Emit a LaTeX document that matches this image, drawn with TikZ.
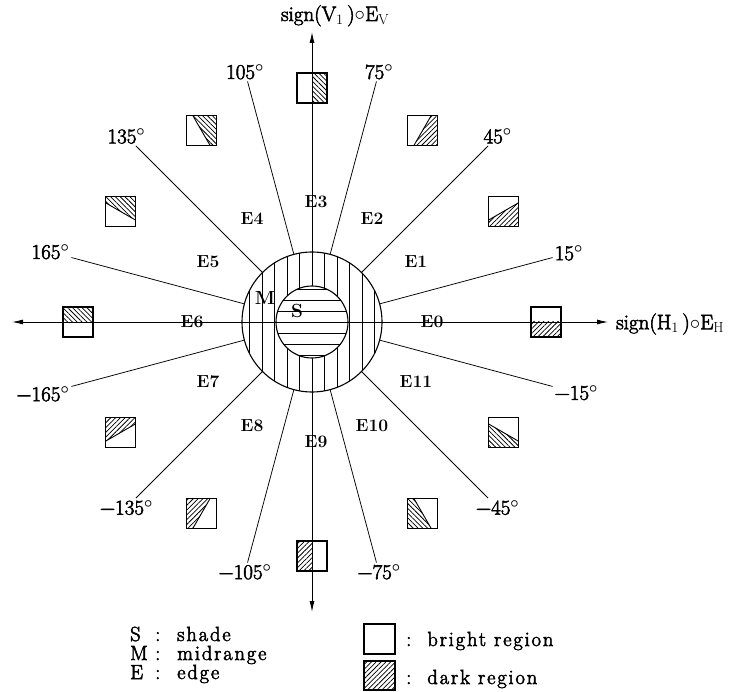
\documentclass[tikz,border=0pt]{standalone}
\usepackage{fontspec}
\setmainfont{Latin Modern Roman}
\newfontfamily\thickfont{Latin Modern Roman}[FakeBold=2.6]
\newfontfamily\legfont{Latin Modern Roman}[FakeBold=2.6,LetterSpace=9]
\usetikzlibrary{arrows.meta,patterns.meta}
\tikzset{
  lbl/.style={font=\fontsize{21}{24}\selectfont\thickfont, inner sep=2pt},
  elbl/.style={font=\fontsize{17.5}{20}\selectfont\bfseries, inner sep=0pt},
  ctr/.style={font=\fontsize{19}{22}\selectfont\bfseries, inner sep=0pt},
  legtxt/.style={font=\fontsize{20.5}{24}\selectfont\legfont, inner sep=0pt, anchor=base west},
  ray/.style={line width=0.75pt},
  axisarrow/.style={line width=0.9pt,-{Latex[length=11pt,width=5pt]}},
  circline/.style={line width=1.1pt},
  hatchline/.style={line width=0.8pt},
  sqline/.style={line width=1.1pt},
  darkfill/.style={pattern={Lines[angle=#1,distance=3.4pt,line width=0.75pt]}},
}
\newcommand\EdgeSquare[3]{%
  \begin{scope}[shift={(#1:#2)}]
    \fill[white] (-15,-15) rectangle (15,15);
    \begin{scope}
      \clip (-15,-15) rectangle (15,15);
      \fill[darkfill=#3] (#1:30) -- (#1+180:30) -- ++(#1-90:30) -- ++(#1:60) -- cycle;
      \draw[line width=0.9pt] (#1:30) -- (#1+180:30);
    \end{scope}
    \draw[sqline] (-15,-15) rectangle (15,15);
  \end{scope}}
\begin{document}
\begin{tikzpicture}[x=1pt,y=1pt]
\useasboundingbox (0,0) rectangle (741,-692);
\begin{scope}[shift={(312,-322)}]
  \coordinate (O) at (0,0);
  \coordinate (Rt) at (296,0);
  \coordinate (Lt) at (-300,0);
  \coordinate (Up) at (0,290);
  \coordinate (Dn) at (0,-290);
  \coordinate (Itop) at (0,36);
  \coordinate (Ibot) at (0,-36);
  % radial boundary lines and angle labels
  \foreach \a/\n/\anc/\t in {15/p15/195/15, 45/p45/225/45, 75/p75/255/75, 105/p105/285/105,
                             135/p135/315/135, 165/p165/345/165,
                             -15/m15/165/−15, -45/m45/135/−45, -75/m75/105/−75,
                             -105/m105/75/−105, -135/m135/45/−135, -165/m165/15/−165}{
    \coordinate (ri\n) at (\a:70);
    \coordinate (ro\n) at (\a:249);
    \draw[ray] (ri\n) -- (ro\n);
    \node[lbl, anchor=\anc] (lab\n) at (ro\n) {\t{\boldmath$^{\circ}$}};
  }
  % central circles
  \fill[white] (O) circle (70);
  \begin{scope}
    \clip (O) circle (70);
    \foreach \k in {-5,...,5} \draw[hatchline] (\k*12.5,-72) -- (\k*12.5,72);
  \end{scope}
  \fill[white] (O) circle (36);
  \begin{scope}
    \clip (O) circle (36);
    \foreach \k in {-3,...,3} \draw[hatchline] (-38,\k*11) -- (38,\k*11);
  \end{scope}
  \draw[circline] (O) circle (70);
  \draw[circline] (O) circle (36);
  % axes
  \draw[axisarrow] (O) -- (Rt);
  \draw[axisarrow] (O) -- (Lt);
  \draw[axisarrow] (Itop) -- (Up);
  \draw[axisarrow] (Ibot) -- (Dn);
  % region labels
  \node[ctr] (Mlab) at (-47,24) {M};
  \node[ctr] (Slab) at (-15,11) {S};
  \node[elbl] (E0) at (0:120) {E0};
  \node[elbl] (E1) at (30:120) {E1};
  \node[elbl] (E2) at (60:120) {E2};
  \node[elbl] (E3) at ([xshift=4]90:120) {E3};
  \node[elbl] (E4) at (120:120) {E4};
  \node[elbl] (E5) at (150:120) {E5};
  \node[elbl] (E6) at (180:120) {E6};
  \node[elbl] (E7) at (210:120) {E7};
  \node[elbl] (E8) at (240:120) {E8};
  \node[elbl] (E9) at ([xshift=4]270:120) {E9};
  \node[elbl] (E10) at (300:120) {E10};
  \node[elbl] (E11) at (330:120) {E11};
  % edge squares
  \EdgeSquare{0}{234}{45}
  \EdgeSquare{30}{221}{45}
  \EdgeSquare{60}{221}{45}
  \EdgeSquare{90}{234}{-45}
  \EdgeSquare{120}{221}{-45}
  \EdgeSquare{150}{221}{-45}
  \EdgeSquare{180}{234}{-45}
  \EdgeSquare{210}{221}{45}
  \EdgeSquare{240}{221}{45}
  \EdgeSquare{270}{234}{45}
  \EdgeSquare{300}{221}{-45}
  \EdgeSquare{330}{221}{-45}
\end{scope}
% axis titles
\node[lbl, anchor=base] (vtitle) at (335,-21) {sign(V$_1$\,)$\circ$E$_{\mathrm{V}}$};
\node[lbl, anchor=west] (htitle) at (614,-324) {sign(H$_1$\,)$\circ$E$_{\mathrm{H}}$};
% legend
\node[legtxt] (kS) at (130,-641) {S};
\node[legtxt] (kM) at (130,-660) {M};
\node[legtxt] (kE) at (130,-679) {E};
\node[legtxt] (cS) at (155,-641) {:};
\node[legtxt] (cM) at (155,-660) {:};
\node[legtxt] (cE) at (155,-679) {:};
\node[legtxt] (tS) at (177,-641) {shade};
\node[legtxt] (tM) at (177,-660) {midrange};
\node[legtxt] (tE) at (177,-679) {edge};
\draw[sqline] (364,-624) rectangle (395,-654);
\node[legtxt] (tB) at (406,-646) {:\ \ bright region};
\fill[darkfill=45] (364,-661) rectangle (395,-690);
\draw[sqline] (364,-661) rectangle (395,-690);
\node[legtxt] (tD) at (406,-684) {:\ \ dark region};
\end{tikzpicture}
\end{document}
